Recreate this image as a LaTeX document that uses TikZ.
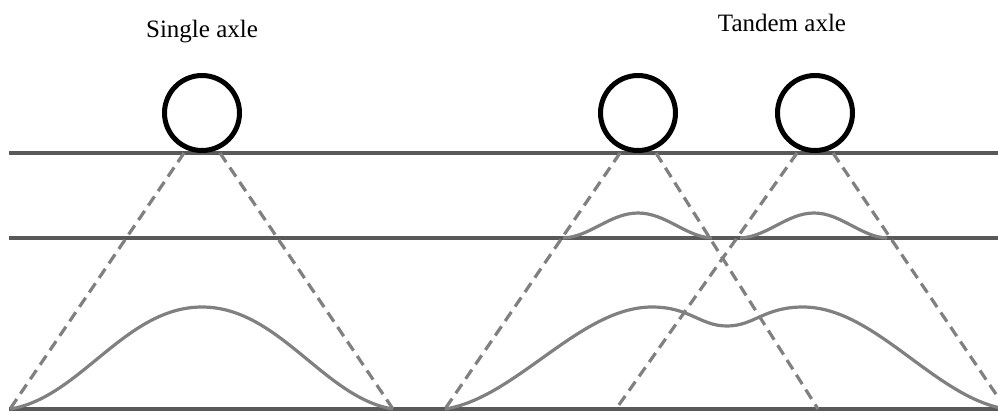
\documentclass[tikz,border=0pt]{standalone}
\usepackage{fontspec}
\setmainfont{Liberation Serif}
\definecolor{roadline}{HTML}{595959}
\definecolor{loadline}{HTML}{808080}
\tikzset{
  layerline/.style={draw=roadline, line width=3.5pt},
  spreadline/.style={draw=loadline, line width=3.2pt, dash pattern=on 11pt off 6.5pt},
  stresscurve/.style={draw=loadline, line width=3.2pt},
  wheel/.style={circle, draw=black, line width=5pt, minimum size=75pt, inner sep=0pt, fill=white},
  caption/.style={font=\fontsize{25}{28}\selectfont, anchor=base}
}
\begin{document}
\begin{tikzpicture}[x=1pt, y=-1pt]
\useasboundingbox (0,0) rectangle (998,413);
\clip (0,0) rectangle (998,413);
% horizontal layer lines
\coordinate (t0) at (9,153); \coordinate (t1) at (998,153);
\coordinate (m0) at (9,238); \coordinate (m1) at (998,238);
\coordinate (b0) at (9,409); \coordinate (b1) at (998,409);
\draw[layerline] (t0) -- (t1);
\draw[layerline] (m0) -- (m1);
\draw[layerline] (b0) -- (b1);
% dashed load spread lines
\coordinate (s1a) at (184,153); \coordinate (s1b) at (10,409);
\coordinate (s1c) at (220,153); \coordinate (s1d) at (393,409);
\coordinate (s2a) at (620,153); \coordinate (s2b) at (445,409);
\coordinate (s2c) at (656,153); \coordinate (s2d) at (818,409);
\coordinate (s3a) at (797,153); \coordinate (s3b) at (616,409);
\coordinate (s3c) at (833,153); \coordinate (s3d) at (1006,409);
\draw[spreadline] (s1a) -- (s1b);
\draw[spreadline] (s1c) -- (s1d);
\draw[spreadline] (s2a) -- (s2b);
\draw[spreadline] (s2c) -- (s2d);
\draw[spreadline] (s3a) -- (s3b);
\draw[spreadline] (s3c) -- (s3d);
% stress curves
\draw[stresscurve] (s1b) .. controls (80,398) and (125,307) .. (202,307)
  .. controls (279,307) and (324,398) .. (s1d);
\coordinate (c1a) at (563,238); \coordinate (c1b) at (712,238);
\coordinate (c2a) at (740,238); \coordinate (c2b) at (887,238);
\draw[stresscurve] (c1a) .. controls (590,237) and (610,213) .. (638,213)
  .. controls (666,213) and (686,237) .. (c1b);
\draw[stresscurve] (c2a) .. controls (767,237) and (787,213) .. (814,213)
  .. controls (841,213) and (861,237) .. (c2b);
\draw[stresscurve] (s2b) .. controls (516,398) and (580,307) .. (652,307)
  .. controls (690,307) and (700,326) .. (727,326)
  .. controls (754,326) and (764,307) .. (803,307)
  .. controls (875,307) and (935,398) .. (s3d);
% wheels
\node[wheel] (w1) at (202,113) {};
\node[wheel] (w2) at (638,113) {};
\node[wheel] (w3) at (815,113) {};
% captions
\node[caption] (l1) at (202,37) {Single axle};
\node[caption] (l2) at (782,31) {Tandem axle};
\end{tikzpicture}
\end{document}
